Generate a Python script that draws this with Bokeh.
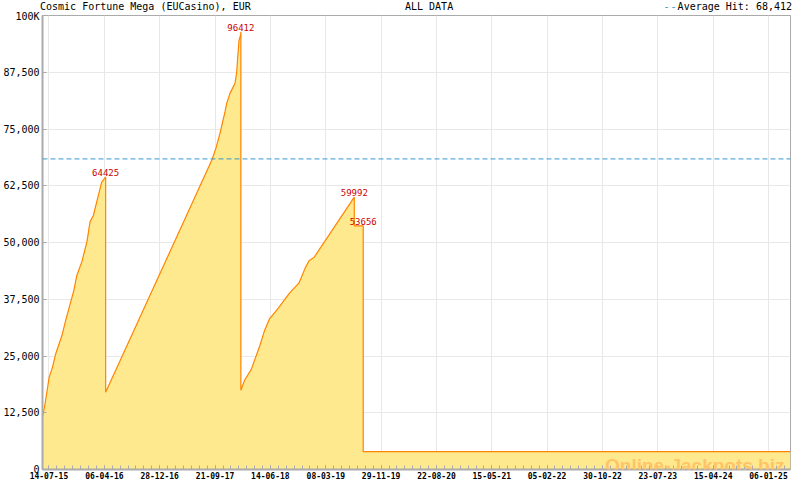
from datetime import datetime
import numpy as np
from bokeh.plotting import figure
from bokeh.layouts import column
from bokeh.models import (ColumnDataSource, Range1d, FixedTicker, DatetimeTickFormatter,
                          Span, Label, LabelSet, Div)
from bokeh.core.properties import value
from bokeh.embed import file_html
from bokeh.resources import INLINE

# ---- data ----
dates = ["2015-06-13", "2015-06-24", "2015-07-15", "2015-07-31", "2015-08-15", "2015-09-16",
         "2015-10-02", "2015-11-10", "2015-11-26", "2015-12-20", "2016-01-13", "2016-01-28",
         "2016-02-13", "2016-02-29", "2016-03-24", "2016-04-12",
         "2016-04-12", "2017-09-07", "2017-09-26", "2017-10-15", "2017-11-08", "2017-11-16",
         "2017-12-02", "2017-12-26", "2018-01-03", "2018-01-08", "2018-01-14", "2018-01-22",
         "2018-01-23",
         "2018-01-23", "2018-02-10", "2018-03-14", "2018-04-23", "2018-05-17", "2018-06-10",
         "2018-07-27", "2018-09-13", "2018-10-30", "2018-11-28", "2018-12-17", "2019-01-10",
         "2019-07-23",
         "2019-07-23", "2019-09-04",
         "2019-09-04", "2025-04-22"]
values = [11570, 14100, 20300, 22500, 25400, 29750,
          32750, 39300, 42850, 45850, 50200, 54600,
          55950, 58950, 63300, 64425,
          17000, 68330, 70950, 74150, 78870, 80700,
          82900, 85070, 87600, 90880, 94500, 95770,
          96412,
          17460, 19650, 22050, 27100, 30600, 33200,
          35800, 38800, 41100, 44300, 46000, 46700,
          59992,
          53656, 53656,
          3930, 3930]

hit_dates = ["2016-04-12", "2018-01-23", "2019-07-23", "2019-09-04"]
hit_values = [64425, 96412, 59992, 53656]
average_hit = 68412

x_tick_labels = ["14-07-15", "06-04-16", "28-12-16", "21-09-17", "14-06-18", "08-03-19",
                 "29-11-19", "22-08-20", "15-05-21", "05-02-22", "30-10-22", "23-07-23",
                 "15-04-24", "06-01-25"]
y_ticks = [0, 12500, 25000, 37500, 50000, 62500, 75000, 87500, 100000]
y_tick_labels = ["0", "12,500", "25,000", "37,500", "50,000", "62,500", "75,000", "87,500", "100K"]

title_text = "Cosmic Fortune Mega (EUCasino), EUR"
range_text = "ALL DATA"
avg_text = "Average Hit: 68,412"
watermark = "Online-Jackpots.biz"

x_start = datetime(2015, 6, 13)
x_end = datetime(2025, 4, 22)

# ---- helpers ----
EPOCH = datetime(1970, 1, 1)
def ms(d):
    return (d - EPOCH).total_seconds() * 1000.0

dt = [datetime.strptime(d, "%Y-%m-%d") for d in dates]
src = ColumnDataSource(dict(x=dt, y=values))
hits = ColumnDataSource(dict(x=[datetime.strptime(d, "%Y-%m-%d") for d in hit_dates],
                             y=hit_values, t=[str(v) for v in hit_values]))

major = [ms(datetime.strptime(s, "%d-%m-%y")) for s in x_tick_labels]
step = np.mean(np.diff(major)) / 7.0
minor = []
m = major[0] - step
while m > ms(x_start):
    minor.append(m)
    m -= step
for a, b in zip(major[:-1], major[1:]):
    minor.extend(list(np.linspace(a, b, 8)))
m = major[-1] + step
while m < ms(x_end):
    minor.append(m)
    m += step

MONO = "DejaVu Sans Mono"
GRID = "#E8E8E8"
AX = "#AAAAAA"
W = 792
HEAD_H = 10
MAIN_H = 472

# ---- header strip (HTML text) ----
head_html = (
    f'<div style="position:relative;width:{W}px;height:{HEAD_H}px;overflow:visible;'
    f'font-family:\'{MONO}\';font-size:10px;line-height:11px;color:#000;white-space:pre;">'
    f'<span style="position:absolute;left:40px;top:-1px;">{title_text}</span>'
    f'<span style="position:absolute;left:405px;top:-1px;">{range_text}</span>'
    f'<span style="position:absolute;right:0px;top:-1px;">'
    f'<span style="color:#3399CC;letter-spacing:1px;">--</span>{avg_text}</span>'
    f'</div>'
)
head = Div(text=head_html, width=W, height=HEAD_H, margin=0)

# ---- main chart ----
p = figure(width=W, height=MAIN_H, x_axis_type="datetime", output_backend="svg",
           toolbar_location=None, x_range=Range1d(x_start, x_end),
           y_range=Range1d(0, 100000),
           min_border_left=40, min_border_right=2, min_border_top=5, min_border_bottom=13)
p.background_fill_color = "white"
p.border_fill_color = None
p.outline_line_color = AX
p.outline_line_width = 1

p.xgrid.grid_line_color = GRID
p.ygrid.grid_line_color = GRID

p.varea(x="x", y1=0, y2="y", source=src, fill_color="#FFE98F", fill_alpha=1.0)
p.line(x="x", y="y", source=src, line_color="#FF8400", line_width=1.2)

p.add_layout(Span(location=average_hit, dimension="width", line_color="#3399CC",
                  line_dash="5 3", line_width=1))

p.add_layout(LabelSet(x="x", y="y", text="t", source=hits, text_align="center",
                      text_baseline="alphabetic", y_offset=1, text_color="#CC0000",
                      text_font=value(MONO), text_font_size="9px"))

# axes
p.xaxis.ticker = FixedTicker(ticks=major, minor_ticks=minor)
fmt = "%d-%m-%y"
p.xaxis.formatter = DatetimeTickFormatter(milliseconds=fmt, seconds=fmt, minsec=fmt, minutes=fmt,
                                          hourmin=fmt, hours=fmt, days=fmt, months=fmt, years=fmt)
p.yaxis.ticker = FixedTicker(ticks=y_ticks)
p.yaxis.major_label_overrides = {v: s for v, s in zip(y_ticks, y_tick_labels)}

for ax in (p.xaxis, p.yaxis):
    ax.axis_line_color = AX
    ax.axis_line_width = 2
    ax.major_tick_line_color = AX
    ax.minor_tick_line_color = AX
    ax.major_tick_in = 4
    ax.major_tick_out = 0
    ax.minor_tick_in = 4
    ax.minor_tick_out = 0
    ax.major_label_text_font = MONO
    ax.major_label_text_color = "black"
p.yaxis.minor_tick_line_color = None
p.xaxis.major_label_text_font_size = "8px"
p.xaxis.major_label_text_font_style = "bold"
p.xaxis.major_label_standoff = 2
p.yaxis.major_label_text_font_size = "10px"
p.yaxis.major_label_standoff = 3

p.add_layout(Label(x=742, y=4, x_units="screen", y_units="screen", text=watermark,
                   text_font="Liberation Sans", text_font_size="19px", text_font_style="bold",
                   text_color="#FFC468", text_alpha=1.0, text_align="right",
                   text_baseline="alphabetic"))

layout = column(head, p, spacing=0)
open("out.html", "w").write(file_html(layout, INLINE))
